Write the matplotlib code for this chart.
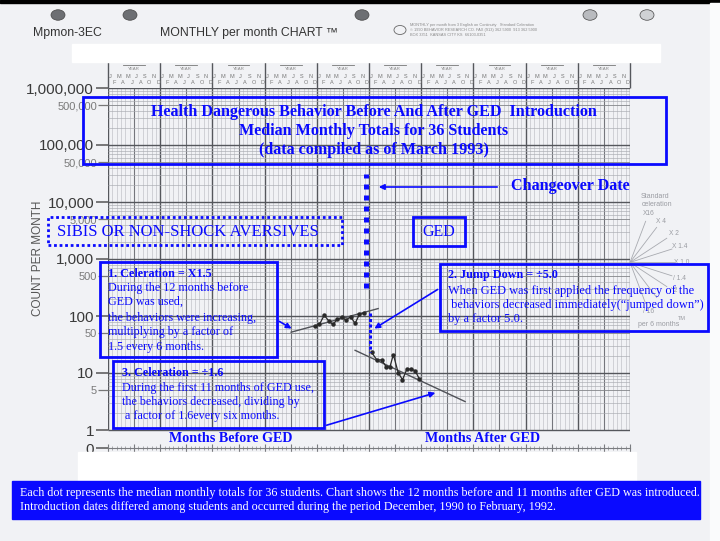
import numpy as np
import matplotlib.pyplot as plt
import matplotlib.transforms as mtransforms
from matplotlib.patches import Rectangle, Circle, FancyArrowPatch

W, H = 720, 541
BLUE = '#0a0aff'
SERIF = 'Liberation Serif'
SANS = 'Liberation Sans'

# chart month 0 = left edge, month 60 = changeover to GED
pre_months = [47.6, 48.6, 49.7, 50.7, 51.7, 52.7, 53.7, 54.7, 55.8, 56.8, 57.8, 58.8]
pre_counts = [67, 71, 103, 83, 71, 87, 95, 85, 97, 74, 107, 111]
post_months = [60.6, 61.8, 62.9, 63.9, 64.8, 65.6, 66.7, 67.7, 68.7, 69.6, 70.6, 71.6]
post_counts = [23, 17, 17, 13, 12.7, 21, 10.2, 7.6, 11.7, 11.7, 11, 7.8]
pre_trend_months = [42.1, 62.1]
pre_trend_counts = [52, 135]
post_trend_months = [56.8, 82.1]
post_trend_counts = [25, 3.15]
jump_month = 60.2
jump_counts = [115, 23.5]
change_month = 59.3
change_counts = [316, 31000]

fan_origin = (120, 871)
fan_rates = [16, 4, 2, 1.4, 1.0, 1 / 1.4, 1 / 2, 1 / 4, 1 / 16]
fan_labels = ['X16', 'X 4', 'X 2', 'X 1.4', 'X 1.0', '/ 1.4', '/ 2', '', '/ 16']

major_vals = [10 ** (-18 / 57), 1, 10, 100, 1e3, 1e4, 1e5, 1e6]
major_labels = ['0', '1', '10', '100', '1,000', '10,000', '100,000', '1,000,000']
minor_vals = [5, 50, 500, 5e3, 5e4, 5e5]
minor_labels = ['5', '50', '500', '5,000', '50,000', '500,000']
bottom_labels = ['60', '48', '36', '24', '12', '0', '12', '24', '36', '48', '60']
row1_letters = ['J', 'M', 'M', 'J', 'S', 'N']
row2_letters = ['F', 'A', 'J', 'A', 'O', 'D']

fig = plt.figure(figsize=(W / 100, H / 100), dpi=100)
fig.patch.set_facecolor('#f1f2f5')


def fx(x):
    return x / W


def fy(y):
    return 1 - y / H


def rect(x0, y0, x1, y1, **kw):
    fig.add_artist(Rectangle((fx(x0), fy(y1)), (x1 - x0) / W, (y1 - y0) / H,
                             transform=fig.transFigure, **kw))


def txt(x, y, s, **kw):
    kw.setdefault('va', 'center')
    fig.text(fx(x), fy(y), s, **kw)


def arrow(x0, y0, x1, y1):
    fig.add_artist(FancyArrowPatch((fx(x0), fy(y0)), (fx(x1), fy(y1)),
                                   transform=fig.transFigure, arrowstyle='-|>',
                                   mutation_scale=8, color=BLUE, lw=1.2, zorder=6))


# paper background bits
rect(0, 0, W, 3, color='black', zorder=0)
rect(710, 3, W, H, color='#fafbfc', zorder=0)
for cx, shade in [(58, '#6d6f73'), (130, '#6d6f73'), (362, '#6d6f73'), (590, '#b9bbbf'), (647, '#cfd1d4')]:
    fig.add_artist(Circle((fx(cx), fy(15)), 7 / W, transform=fig.transFigure,
                          fc=shade, ec='#444', lw=0.5, zorder=1))

txt(33, 33, 'Mpmon-3EC', family=SANS, fontsize=8.8, color='#333')
txt(160, 33, 'MONTHLY per month CHART \u2122', family=SANS, fontsize=8.8, color='#333')
fig.add_artist(Circle((fx(400), fy(30)), 6 / W, transform=fig.transFigure,
                      fc='none', ec='#666', lw=0.6))
for i, line in enumerate(['MONTHLY per month from 3 English on Continuity   Standard Celeration',
                          '\u00a9 1990 BEHAVIOR RESEARCH CO. FAX (913) 362 5900  913 362 5900',
                          'BOX 3351  KANSAS CITY KS  66103-0351']):
    txt(410, 25 + 5 * i, line, family=SANS, fontsize=2.8, color='#888')
rect(72, 44, 660, 62, color='white', zorder=1)

# chart axes
ax = fig.add_axes([fx(108), fy(448), 522 / W, 360 / H])
ax.set_facecolor('none')
ax.set_yscale('log')
ax.set_xlim(0, 120)
ax.set_ylim(major_vals[0], 1e6)

for m in range(121):
    if m % 12 == 0:
        c, lw = '#55575c', 1.0
    elif m % 6 == 0:
        c, lw = '#74767c', 0.8
    else:
        c, lw = '#b6b8be', 0.4
    ax.vlines(m, 1, 1e6, color=c, lw=lw, zorder=1)
for d in range(6):
    for k in range(1, 10):
        if k == 1:
            c, lw = '#55575c', 1.0
        elif k == 5:
            c, lw = '#838589', 0.6
        else:
            c, lw = '#a9abb1', 0.45
        ax.hlines(k * 10 ** d, 0, 120, color=c, lw=lw, zorder=1)
ax.hlines(1e6, 0, 120, color='#55575c', lw=1.0, zorder=1)

# year header above the chart
ytop = 10 ** (6 + 26 / 57)
hdr = mtransforms.blended_transform_factory(ax.transData, fig.transFigure)
for m in range(0, 121, 12):
    ax.vlines(m, 1e6, ytop, color='#55575c', lw=1.0, clip_on=False)
for m in range(0, 120, 12):
    ax.plot([m + 3.5, m + 8.5], [fy(64.5)] * 2, transform=hdr, color='#777', lw=0.6, clip_on=False)
    ax.text(m + 6, fy(69), 'YEAR', transform=hdr, fontsize=3.2, color='#888',
            ha='center', va='center', family=SANS)
    for i in range(6):
        ax.text(m + 2 * i + 0.5, fy(77), row1_letters[i], transform=hdr, fontsize=4,
                color='#777', ha='center', va='center', family=SANS)
        ax.text(m + 2 * i + 1.5, fy(82), row2_letters[i], transform=hdr, fontsize=4,
                color='#777', ha='center', va='center', family=SANS)

for s in ['top', 'right', 'left']:
    ax.spines[s].set_visible(False)
ax.spines['bottom'].set_color('#7a7c80')
ax.set_xticks(range(0, 121, 6))
ax.set_xticks(range(121), minor=True)
ax.tick_params(axis='x', which='major', length=6, direction='inout', color='#7a7c80', labelbottom=False)
ax.tick_params(axis='x', which='minor', length=3, direction='inout', color='#9a9ca0')
ax.set_yticks(major_vals, major_labels)
ax.set_yticks(minor_vals, minor_labels, minor=True)
ax.tick_params(axis='y', which='major', length=9, width=1.1, color='#555', pad=1, labelsize=11, labelcolor='#3a3a3a')
ax.tick_params(axis='y', which='minor', length=7, width=0.9, color='#777', pad=1, labelsize=8, labelcolor='#7a7a7a')
for lab in ax.get_yticklabels(which='both'):
    lab.set_family(SANS)
fig.text(fx(38), fy(258), 'COUNT PER MONTH', rotation=90, ha='center', va='center',
         family=SANS, fontsize=8.5, color='#555')

# standard celeration fan
ox, oy = fan_origin
for rate, lab in zip(fan_rates, fan_labels):
    slope = 57 * np.log10(rate) / 6
    t = 44 / np.hypot(4.35, slope)
    ax.plot([ox, ox + t], [oy, oy * rate ** (t / 6)], color='#a8aab0', lw=0.6, clip_on=False)
    if lab:
        tl = 52 / np.hypot(4.35, slope)
        ax.text(ox + tl, oy * rate ** (tl / 6), lab, fontsize=4.8, color='#9a9ca2',
                ha='center', va='center', family=SANS, clip_on=False)
txt(655, 197, 'Standard', ha='center', fontsize=5, color='#9a9ca2', family=SANS)
txt(657, 204, 'celeration', ha='center', fontsize=5, color='#9a9ca2', family=SANS)
txt(682, 318, 'TM', ha='center', fontsize=4, color='#9a9ca2', family=SANS)
txt(659, 325, 'per 6 months', ha='center', fontsize=5, color='#9a9ca2', family=SANS)

# data
ax.plot(pre_trend_months, pre_trend_counts, color='#505258', lw=1.0, zorder=4)
ax.plot(post_trend_months, post_trend_counts, color='#505258', lw=1.0, zorder=4)
ax.plot(pre_months, pre_counts, '-o', color='#2a2a2a', lw=0.9, ms=2.2, zorder=5)
ax.plot(post_months, post_counts, '-o', color='#2a2a2a', lw=0.9, ms=2.2, zorder=5)
ax.vlines(jump_month, jump_counts[0], jump_counts[1], colors=BLUE, lw=2.2,
          linestyles=(0, (1, 0.8)), zorder=6)
ax.vlines(change_month, change_counts[0], change_counts[1], colors=BLUE, lw=3.6,
          linestyles=(0, (1, 1.2)), zorder=6)

# overlays
rect(83, 97, 666, 164, fill=False, ec=BLUE, lw=2)
for y, s in [(112, 'Health Dangerous Behavior Before And After GED  Introduction'),
             (131, 'Median Monthly Totals for 36 Students'),
             (150, '(data compiled as of March 1993)')]:
    txt(374, y, s, ha='center', family=SERIF, fontsize=11.6, weight='bold', color=BLUE)

arrow(500, 187, 376, 187)
txt(511, 186, 'Changeover Date', family=SERIF, fontsize=11.6, weight='bold', color=BLUE)

rect(48, 217, 342, 245, fill=False, ec=BLUE, lw=2, ls=(0, (1, 1)))
txt(57, 232, 'SIBIS OR NON-SHOCK AVERSIVES', family=SERIF, fontsize=12, color=BLUE)
rect(413, 217, 465, 246, fill=False, ec=BLUE, lw=2)
txt(439, 232, 'GED', ha='center', family=SERIF, fontsize=11.5, color=BLUE)

box_kw = dict(family=SERIF, fontsize=8.7, color=BLUE)
rect(100, 262, 277, 357, fill=False, ec=BLUE, lw=2, zorder=2)
txt(108, 274, '1. Celeration = X1.5', weight='bold', **box_kw)
for y, s in [(288, 'During the 12 months before'), (302, 'GED was used,'),
             (318, 'the behaviors were increasing,'), (332, 'multiplying by a factor of'),
             (347, '1.5 every 6 months.')]:
    txt(108, y, s, **box_kw)
arrow(277, 320, 294, 330)

rect(113, 361, 324, 428, fill=False, ec=BLUE, lw=2, zorder=2)
txt(122, 373, '3. Celeration = \u00f71.6', weight='bold', **box_kw)
for y, s in [(388, 'During the first 11 months of GED use,'),
             (402, 'the behaviors decreased, dividing by'),
             (416, ' a factor of 1.6every six months.')]:
    txt(122, y, s, **box_kw)
arrow(324, 426, 438, 392)

rect(440, 264, 708, 331, fill=False, ec=BLUE, lw=2, zorder=2)
txt(448, 275, '2. Jump Down = \u00f75.0', weight='bold', **box_kw)
for y, s in [(291, 'When GED was first applied the frequency of the'),
             (305, ' behaviors decreased immediately(\u201cjumped down\u201d)'),
             (319, 'by a factor 5.0.')]:
    txt(448, y, s, family=SERIF, fontsize=8.9, color=BLUE)
arrow(440, 288, 372, 330)

txt(231, 439, 'Months Before GED', ha='center', family=SERIF, fontsize=10.2, weight='bold', color=BLUE)
txt(483, 439, 'Months After GED', ha='center', family=SERIF, fontsize=10.2, weight='bold', color=BLUE)

rect(78, 452, 636, 481, color='white', zorder=2)
for i, s in enumerate(bottom_labels):
    ax.text(i * 12 - 0.6, fy(465), s, transform=hdr, ha='center', va='center',
            family=SERIF, fontsize=11, weight='bold', color=BLUE, zorder=7, clip_on=False)

rect(12, 481, 700, 519, color=BLUE, zorder=2)
txt(20, 493, 'Each dot represents the median monthly totals for 36 students. Chart shows the 12 months '
             'before and 11 months after GED was introduced.', family=SERIF, fontsize=8.7, color='white')
txt(20, 507, 'Introduction dates differed among students and occurred during the period December, 1990 '
             'to February, 1992.', family=SERIF, fontsize=8.7, color='white')

fig.savefig('out.png', dpi=100, facecolor=fig.get_facecolor())
